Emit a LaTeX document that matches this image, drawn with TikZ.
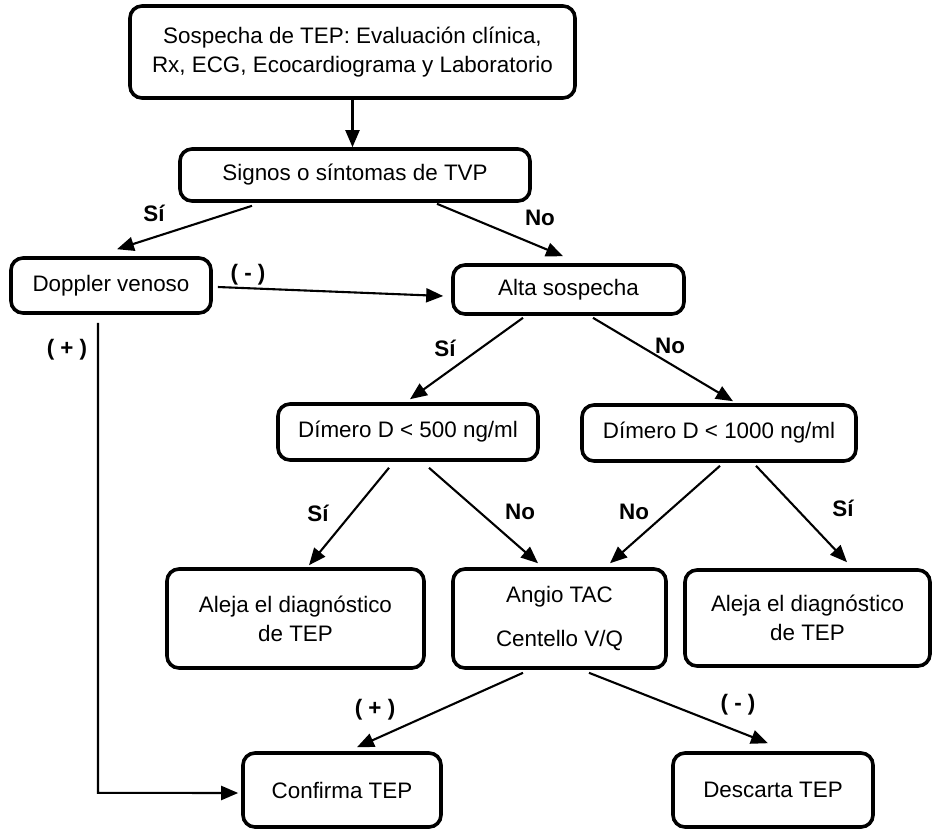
\documentclass[tikz,border=0pt]{standalone}
\usepackage{fontspec}
\setmainfont{Liberation Sans}
\usetikzlibrary{arrows.meta,calc}
\begin{document}
\begin{tikzpicture}[x=1pt,y=-1pt,
  box/.style={draw, line width=3.6pt, rounded corners=12pt, inner sep=0pt, align=center,
    font=\fontsize{22.4}{29}\selectfont},
  arr/.style={line width=2.1pt, -{Triangle[length=17pt,width=14pt]}},
  lbl/.style={font=\fontsize{22.4}{27}\selectfont\bfseries, inner sep=0pt}]
\useasboundingbox (0,0) rectangle (934,831);

% boxes
\node[box, minimum width=445pt, minimum height=92pt] (top) at (352.5,52)
  {Sospecha de TEP: Evaluación clínica,\\Rx, ECG, Ecocardiograma y Laboratorio};
\node[box, minimum width=350pt, minimum height=52pt] (sig) at (355,175) {Signos o síntomas de TVP};
\node[box, minimum width=200pt, minimum height=55pt] (dop) at (111,285.5) {Doppler venoso};
\node[box, minimum width=231pt, minimum height=49pt] (alta) at (568.5,289.5) {Alta sospecha};
\node[box, minimum width=260pt, minimum height=56pt] (d500) at (408,432) {Dímero D < 500 ng/ml};
\node[box, minimum width=274pt, minimum height=56pt] (d1000) at (719,433) {Dímero D < 1000 ng/ml};
\node[box, minimum width=257pt, minimum height=99pt] (al1) at (295.5,618.5) {Aleja el diagnóstico\\de TEP};
\node[box, minimum width=213pt, minimum height=99pt] (ang) at (559.5,618.5) {Angio TAC\\[15pt]Centello V/Q};
\node[box, minimum width=245pt, minimum height=96pt] (al2) at (807.5,618) {Aleja el diagnóstico\\de TEP};
\node[box, minimum width=198pt, minimum height=74pt] (conf) at (342,790) {Confirma TEP};
\node[box, minimum width=200pt, minimum height=74pt] (desc) at (773,790) {Descarta TEP};

% connectors
\draw[arr] (top.south) -- (top.south |- sig.north);
\draw[arr] ($(sig.south)+(-103,3)$) -- ($(dop.north)+(6,-7)$);
\draw[arr] ($(sig.south)+(82,1)$) -- ($(alta.north)+(-5.5,-7)$);
\draw[arr] ($(dop.east)+(5,1.5)$) -- ($(alta.west)+(-8,6.5)$);
\coordinate (dopc) at ($(dop.south)+(-13,478)$);
\draw[arr] ($(dop.south)+(-13,8)$) -- (dopc) -- ($(conf.west)+(-3,3)$);
\draw[arr] ($(alta.south)+(-45.5,2)$) -- ($(d500.north)+(2,-3)$);
\draw[arr] ($(alta.south)+(24.5,2)$) -- ($(d1000.north)+(14,-2)$);
\draw[arr] ($(d500.south)+(-19,6)$) -- ($(al1.north)+(13.5,-2)$);
\draw[arr] ($(d500.south)+(21,6)$) -- ($(ang.north)+(-21.5,-4)$);
\draw[arr] ($(d1000.south)+(1,3)$) -- ($(ang.north)+(50.5,-4)$);
\draw[arr] ($(d1000.south)+(37,3)$) -- ($(al2.north)+(39.5,-6)$);
\draw[arr] ($(ang.south)+(-36.5,3)$) -- ($(conf.north)+(15,-4)$);
\draw[arr] ($(ang.south)+(29.5,3)$) -- ($(desc.north)+(-5,-8)$);

% labels
\node[lbl] (l1) at (154,213) {Sí};
\node[lbl] (l2) at (540,218) {No};
\node[lbl] (l3) at (248,275) {( - )};
\node[lbl] (l4) at (67,350) {( + )};
\node[lbl] (l5) at (445,348) {Sí};
\node[lbl] (l6) at (670,346) {No};
\node[lbl] (l7) at (318,513) {Sí};
\node[lbl] (l8) at (520,512) {No};
\node[lbl] (l9) at (634,512) {No};
\node[lbl] (l10) at (843,508) {Sí};
\node[lbl] (l11) at (375,710) {( + )};
\node[lbl] (l12) at (738,705) {( - )};
\end{tikzpicture}
\end{document}
